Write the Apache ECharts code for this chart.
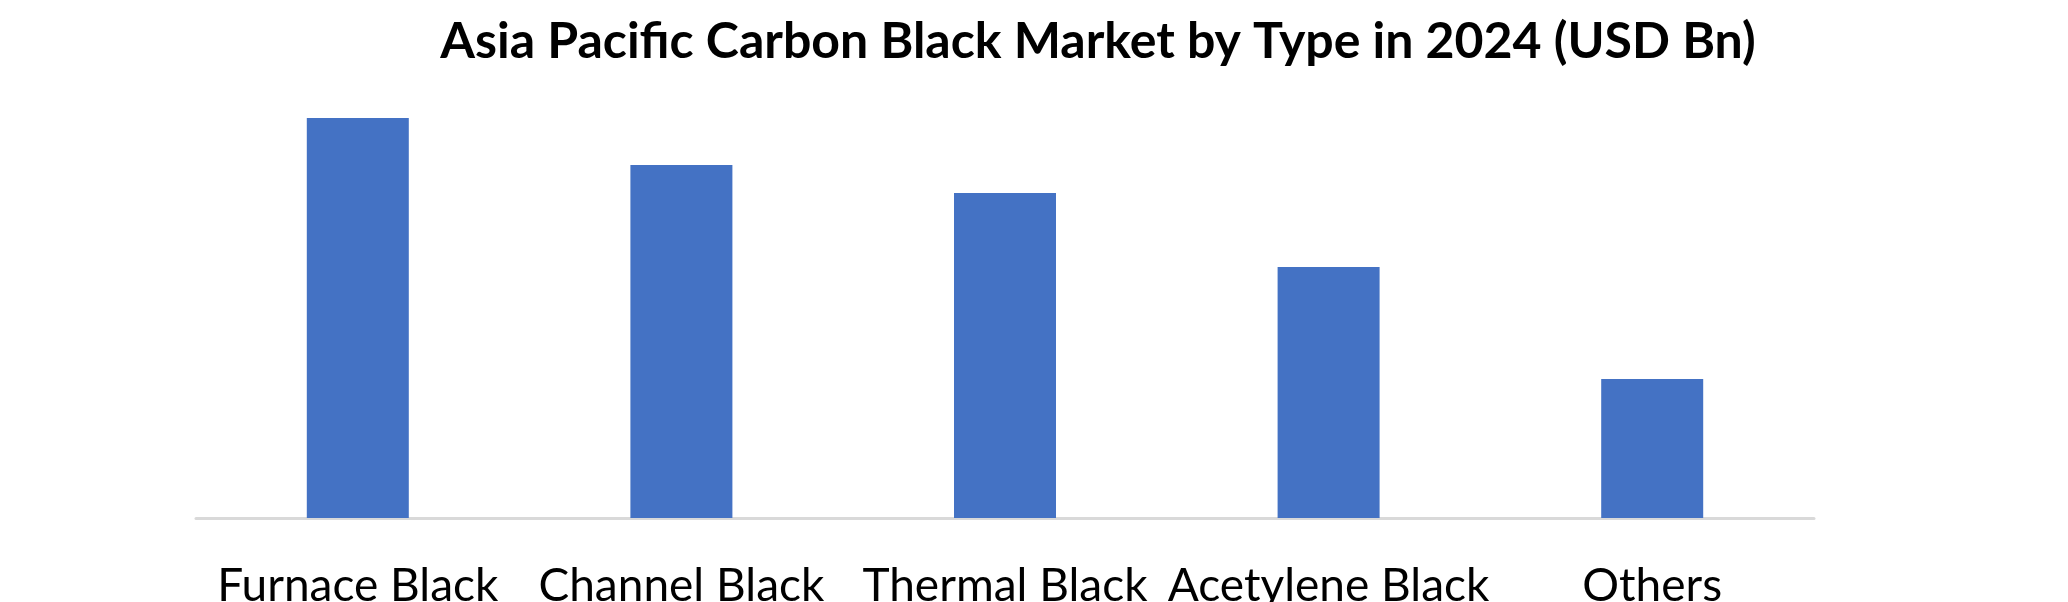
<!DOCTYPE html>
<html lang="en">
<head>
    <meta charset="UTF-8"/>
    <title>Asia Pacific Carbon Black Market by Type in 2024</title>
    <script src="https://cdn.jsdelivr.net/npm/echarts@6/dist/echarts.min.js"></script>
    <style>
        html, body { margin: 0; padding: 0; background: #ffffff; }
        #chart { width: 2068px; height: 602px; }
    </style>
</head>
<body>
    <div id="chart"></div>
    <script>
        // data (USD Bn, estimated)
        const categories = ['Furnace Black', 'Channel Black', 'Thermal Black', 'Acetylene Black', 'Others'];
        const values = [4.00, 3.53, 3.25, 2.51, 1.39];

        const chart = echarts.init(document.getElementById('chart'));
        chart.setOption({
            backgroundColor: '#ffffff',
            animation: false,
            title: {
                text: 'Asia Pacific Carbon Black Market by Type in 2024 (USD Bn)',
                left: 1093,
                top: 12,
                textAlign: 'center',
                textStyle: { fontFamily: 'Lato', fontWeight: 'bold', fontSize: 50, color: '#000000' }
            },
            // labels run off the bottom edge in the original, so don't let the grid shrink
            grid: { left: 196, right: 254, top: 118, bottom: 84, outerBoundsMode: 'none' },
            xAxis: {
                type: 'category',
                data: categories,
                axisLine: { lineStyle: { color: '#d9d9d9', width: 3 } },
                axisTick: { show: false },
                axisLabel: {
                    interval: 0,
                    margin: 45,
                    fontFamily: 'Lato',
                    fontSize: 46,
                    color: '#000000'
                }
            },
            yAxis: {
                type: 'value',
                min: 0,
                max: 4,
                show: false,
                splitLine: { show: false }
            },
            series: [{
                type: 'bar',
                data: values,
                barWidth: 102,
                itemStyle: { color: '#4472c4' }
            }]
        });
    </script>
</body>
</html>
